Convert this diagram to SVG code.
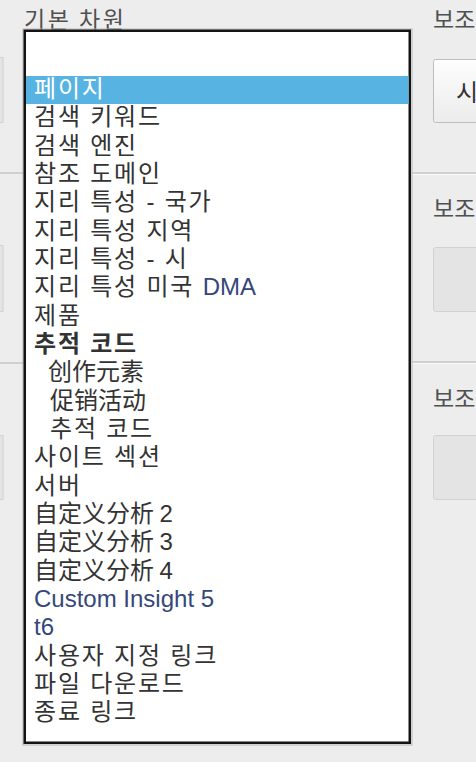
<svg xmlns="http://www.w3.org/2000/svg" width="476" height="762" viewBox="0 0 476 762">
<defs>
<style>
.lbl{font-family:"Noto Sans CJK KR","Liberation Sans",sans-serif;font-size:23px;fill:#505050;letter-spacing:2.5px}
.lblr{letter-spacing:0}
.it{font-family:"Liberation Sans","Noto Sans CJK KR",sans-serif;font-size:24px;fill:#333}
.ko{letter-spacing:1.8px}
.zh{font-family:"Noto Sans CJK SC","Noto Sans CJK KR",sans-serif;font-size:24px;fill:#333}
.lat{fill:#35477a;letter-spacing:0}
.div{stroke:#c6c6c6;stroke-width:1.5}
.divl{stroke:#fafafa;stroke-width:1}
.gbox{fill:#e4e4e4;stroke:#d2d2d2;stroke-width:1}
</style>
<linearGradient id="btn" x1="0" y1="0" x2="0" y2="1">
<stop offset="0" stop-color="#fdfdfd"/>
<stop offset="1" stop-color="#ececec"/>
</linearGradient>
</defs>
<rect x="0" y="0" width="476" height="762" fill="#ededed"/>

<g id="left-panel">
<rect class="gbox" x="-6" y="57.5" width="9" height="65"/>
<rect class="gbox" x="-6" y="245.5" width="9" height="66"/>
<rect class="gbox" x="-6" y="435.5" width="9" height="64"/>
<line class="div" x1="0" y1="173" x2="24" y2="173"/>
<line class="div" x1="0" y1="363" x2="24" y2="363"/>
<text class="lbl" x="24" y="28">기본 차원</text>
</g>

<g id="right-panel">
<text class="lbl lblr" x="433" y="28">보조</text>
<rect x="433.5" y="59.5" width="50" height="63" rx="2" fill="url(#btn)" stroke="#bdbdbd"/>
<text class="it" x="456" y="101">시</text>
<line class="div" x1="412" y1="173" x2="476" y2="173"/>
<line class="divl" x1="412" y1="174.5" x2="476" y2="174.5"/>
<text class="lbl lblr" x="433" y="217">보조</text>
<rect class="gbox" x="433.5" y="247.5" width="50" height="64" rx="2"/>
<line class="div" x1="412" y1="362" x2="476" y2="362"/>
<line class="divl" x1="412" y1="363.5" x2="476" y2="363.5"/>
<text class="lbl lblr" x="433" y="407">보조</text>
<rect class="gbox" x="433.5" y="435.5" width="50" height="64" rx="2"/>
</g>

<g id="dropdown">
<rect x="23" y="29" width="389" height="716" fill="none" stroke="#b5b5b5" stroke-width="1"/>
<rect x="24.75" y="30.75" width="385" height="712" fill="#ffffff" stroke="#141414" stroke-width="2.5"/>
<rect x="26" y="76" width="382.5" height="28" fill="#57b3e1"/>
<text class="it ko" x="34" y="97" style="fill:#ffffff">페이지</text>
<text class="it ko" x="34" y="125.3">검색 키워드</text>
<text class="it ko" x="34" y="153.7">검색 엔진</text>
<text class="it ko" x="34" y="182">참조 도메인</text>
<text class="it ko" x="34" y="210.3">지리 특성 - 국가</text>
<text class="it ko" x="34" y="238.7">지리 특성 지역</text>
<text class="it ko" x="34" y="267">지리 특성 - 시</text>
<text class="it ko" x="34" y="295.3">지리 특성 미국 <tspan class="lat">DMA</tspan></text>
<text class="it ko" x="34" y="323.6">제품</text>
<text class="it ko" x="34" y="352" font-weight="bold">추적 코드</text>
<text class="zh" x="48" y="380.3">创作元素</text>
<text class="zh" x="50" y="408.6">促销活动</text>
<text class="it ko" x="50" y="437">추적 코드</text>
<text class="it ko" x="34" y="465.3">사이트 섹션</text>
<text class="it ko" x="34" y="493.6">서버</text>
<text class="zh" x="34" y="522">自定义分析 <tspan style="font-family:'Liberation Sans',sans-serif">2</tspan></text>
<text class="zh" x="34" y="550.3">自定义分析 <tspan style="font-family:'Liberation Sans',sans-serif">3</tspan></text>
<text class="zh" x="34" y="578.6">自定义分析 <tspan style="font-family:'Liberation Sans',sans-serif">4</tspan></text>
<text class="it lat" x="34" y="607">Custom Insight 5</text>
<text class="it lat" x="34" y="635.3">t6</text>
<text class="it ko" x="34" y="663.6">사용자 지정 링크</text>
<text class="it ko" x="34" y="692">파일 다운로드</text>
<text class="it ko" x="34" y="720.3">종료 링크</text>
</g>
</svg>
